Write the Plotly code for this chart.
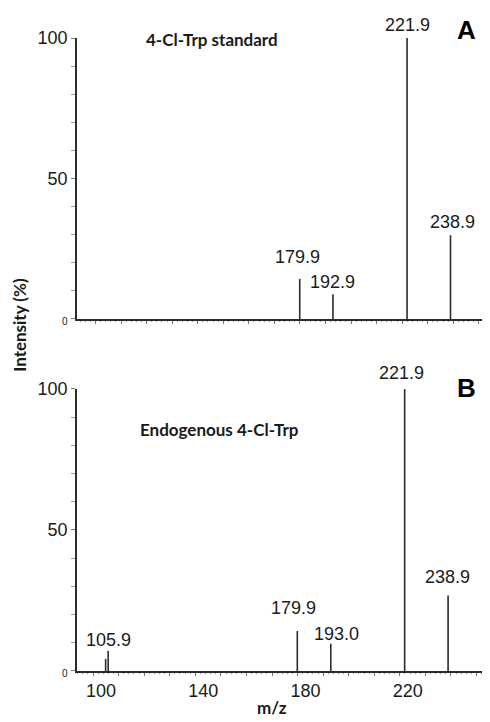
import plotly.graph_objects as go
from plotly.subplots import make_subplots

# ---- data ----
std_mz = [179.9, 192.9, 221.9, 238.9]
std_int = [14.3, 8.8, 100.0, 29.8]
std_labels = ["179.9", "192.9", "221.9", "238.9"]

endo_mz = [104.9, 105.9, 179.9, 193.0, 221.9, 238.9]
endo_int = [4.3, 7.1, 14.2, 9.7, 100.0, 26.8]
endo_labels = ["", "105.9", "179.9", "193.0", "221.9", "238.9"]

x_label_vals = [100, 140, 180, 220]
y_label_vals = [0, 50, 100]

panel_titles = ["4-Cl-Trp standard", "Endogenous 4-Cl-Trp"]
panel_letters = ["A", "B"]

# ---- style ----
INK = "#2b2b2b"
TXT = "#1a1a1a"
SANS = "Liberation Sans, Arial, sans-serif"
BOLD = "Lato, Calibri, Open Sans, sans-serif"

# per-label nudges (xshift, yshift) in px
std_nudge = [(-2, 22), (0, 12), (0, 13), (2, 13)]
endo_nudge = [(0, 0), (0, 11), (-4, 23), (6, 10), (-3, 16), (-1, 18)]

fig = make_subplots(rows=2, cols=1, shared_xaxes=False, vertical_spacing=0.11)


def sticks(mz, inten):
    xs, ys = [], []
    for m, h in zip(mz, inten):
        xs += [m, m, None]
        ys += [0, h, None]
    return xs, ys


for row, (mz, inten) in enumerate([(std_mz, std_int), (endo_mz, endo_int)], start=1):
    xs, ys = sticks(mz, inten)
    fig.add_trace(
        go.Scatter(x=xs, y=ys, mode="lines", line=dict(color=INK, width=1.6),
                   hoverinfo="skip", showlegend=False, cliponaxis=False),
        row=row, col=1,
    )

# peak labels
for row, (mz, inten, labs, nudge) in enumerate(
    [(std_mz, std_int, std_labels, std_nudge), (endo_mz, endo_int, endo_labels, endo_nudge)], start=1
):
    xr = "x" if row == 1 else "x2"
    yr = "y" if row == 1 else "y2"
    for m, h, t, (dx, dy) in zip(mz, inten, labs, nudge):
        if not t:
            continue
        fig.add_annotation(x=m, y=h, xref=xr, yref=yr, text=t, showarrow=False,
                           xanchor="center", yanchor="middle", xshift=dx, yshift=dy,
                           font=dict(family=SANS, size=18, color=TXT))

# panel titles and letters
title_pos = [(0.327, 0.996), (0.345, 0.858)]
for i, (t, L) in enumerate(zip(panel_titles, panel_letters)):
    xr = "x domain" if i == 0 else "x2 domain"
    yr = "y domain" if i == 0 else "y2 domain"
    fig.add_annotation(x=title_pos[i][0], y=title_pos[i][1], xref=xr, yref=yr, text="<b>" + t + "</b>",
                       showarrow=False, xanchor="center", yanchor="middle",
                       font=dict(family=BOLD, size=17, color=TXT))
    fig.add_annotation(x=0.942, y=1.03 if i == 0 else 1.005, xref=xr, yref=yr, text="<b>" + L + "</b>",
                       showarrow=False, xanchor="center", yanchor="middle",
                       font=dict(family=SANS, size=26, color="#000"))

# axis titles
fig.add_annotation(x=-0.138, y=0.547, xref="paper", yref="paper", text="<b>Intensity (%)</b>",
                   textangle=-90, showarrow=False, xanchor="center", yanchor="middle",
                   font=dict(family=BOLD, size=17, color=TXT))
fig.add_annotation(x=0.472, y=-0.058, xref="paper", yref="paper", text="<b>m/z</b>",
                   showarrow=False, xanchor="center", yanchor="middle",
                   font=dict(family=BOLD, size=17, color=TXT))

# ticks
major_x = list(range(90, 260, 10))
x_ticktext = [str(v) if v in x_label_vals else "" for v in major_x]
y_ticktext = [
    ('<span style="font-size:10px">%d</span>' % v) if v == 0 else str(v) for v in y_label_vals
]
y_minor = list(range(0, 101, 10))

xcommon = dict(showgrid=False, zeroline=False, showline=True, linecolor=INK, linewidth=1.6,
               ticks="outside", ticklen=3, tickwidth=1, tickcolor="#777",
               tickvals=major_x,
               minor=dict(dtick=2, ticks="outside", ticklen=1.5, tickcolor="#999", tickwidth=1),
               tickfont=dict(family=SANS, size=18, color=TXT))
ycommon = dict(showgrid=False, zeroline=False, showline=True, linecolor=INK, linewidth=1.6,
               ticks="outside", ticklen=4, tickwidth=1, tickcolor="#777",
               tickvals=y_label_vals, ticktext=y_ticktext,
               minor=dict(tickvals=y_minor, ticks="outside", ticklen=4, tickcolor="#999", tickwidth=1),
               tickfont=dict(family=SANS, size=18, color=TXT), range=[0, 100])

# the page body has an 8px default margin, so the figure is sized/offset to compensate
fig.update_layout(
    xaxis=dict(xcommon, range=[92.75, 254.35], ticktext=[""] * len(major_x), domain=[0, 1]),
    xaxis2=dict(xcommon, range=[93.7, 255.3], ticktext=x_ticktext, ticklabelshift=8, domain=[0, 1]),
    yaxis=dict(ycommon, domain=[0.5561, 1.0]),
    yaxis2=dict(ycommon, domain=[0.0, 0.4455]),
    width=482, height=714,
    margin=dict(l=69, r=0, t=30, b=51),
    plot_bgcolor="white", paper_bgcolor="white",
    showlegend=False,
)

fig.write_html("out.html")
